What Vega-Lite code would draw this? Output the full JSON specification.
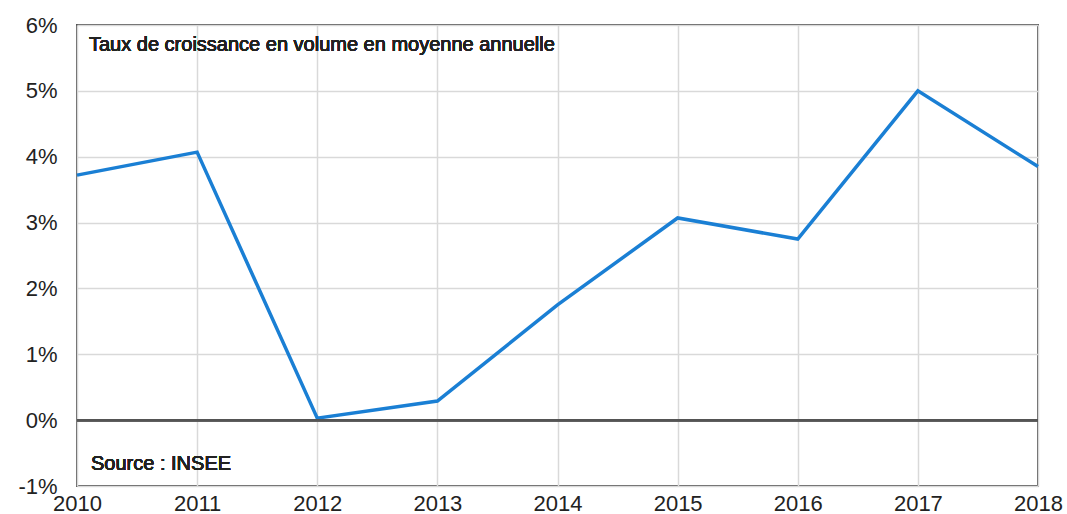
{
  "$schema": "https://vega.github.io/schema/vega-lite/v6.json",
  "width": 961,
  "height": 461,
  "autosize": "none",
  "padding": {"left": 77, "top": 25, "right": 29, "bottom": 28},
  "background": "white",
  "config": {
    "font": "Liberation Sans",
    "view": {"stroke": "#555555", "strokeWidth": 2},
    "axis": {"domain": false, "ticks": false, "grid": true, "gridColor": "#d9d9d9", "gridWidth": 1.5, "labelColor": "#222222", "labelFont": "Liberation Sans", "labelFontSize": 22}
  },
  "data": {"values": [
    {"year": 2010, "rate": 3.72},
    {"year": 2011, "rate": 4.07},
    {"year": 2012, "rate": 0.03},
    {"year": 2013, "rate": 0.29},
    {"year": 2014, "rate": 1.75},
    {"year": 2015, "rate": 3.07},
    {"year": 2016, "rate": 2.75},
    {"year": 2017, "rate": 5.0},
    {"year": 2018, "rate": 3.85}
  ]},
  "encoding": {
    "x": {"field": "year", "type": "quantitative", "scale": {"domain": [2010, 2018], "nice": false, "zero": false},
          "axis": {"title": null, "grid": true, "values": [2010,2011,2012,2013,2014,2015,2016,2017,2018], "format": "d", "labelPadding": 7, "labelFlush": false}},
    "y": {"field": "rate", "type": "quantitative", "scale": {"domain": [-1, 6], "nice": false},
          "axis": {"title": null, "grid": true, "values": [-1,0,1,2,3,4,5,6], "labelExpr": "datum.value + '%'", "labelPadding": 20, "labelFlush": false}}
  },
  "layer": [
    {
      "mark": {"type": "line", "color": "#1a7fd4", "strokeWidth": 3.5, "strokeJoin": "miter"}
    },
    {
      "mark": {"type": "rule", "color": "#555555", "strokeWidth": 2},
      "encoding": {"x": null, "y": {"datum": 0, "type": "quantitative"}}
    },
    {
      "mark": {"type": "text", "text": "Taux de croissance en volume en moyenne annuelle", "align": "left", "baseline": "middle", "fontSize": 20, "color": "#222222", "dx": 12},
      "encoding": {"x": {"datum": 2010, "type": "quantitative"}, "y": {"datum": 5.69, "type": "quantitative"}}
    },
    {
      "mark": {"type": "text", "text": "Source : INSEE", "align": "left", "baseline": "middle", "fontSize": 20, "color": "#222222", "dx": 14},
      "encoding": {"x": {"datum": 2010, "type": "quantitative"}, "y": {"datum": -0.67, "type": "quantitative"}}
    }
  ]
}
